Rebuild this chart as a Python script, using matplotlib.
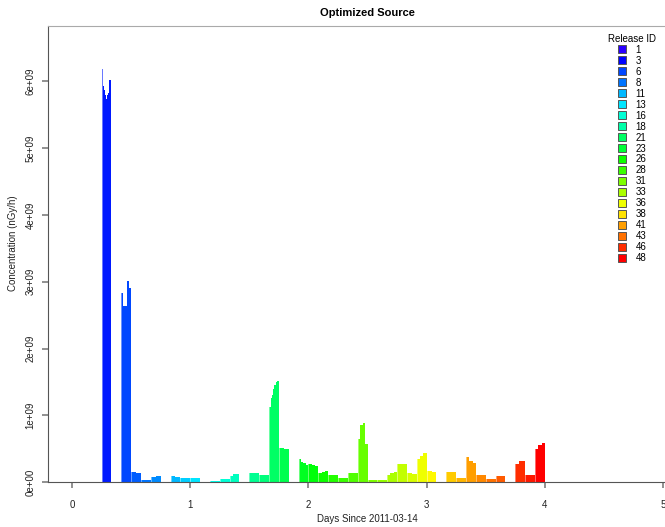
import colorsys
import matplotlib
matplotlib.use("Agg")
import matplotlib.pyplot as plt
from matplotlib.lines import Line2D

plt.rcParams['font.family'] = ['Liberation Sans', 'DejaVu Sans']

release_ids = list(range(1, 49))
legend_ids = [1, 3, 6, 8, 11, 13, 16, 18, 21, 23, 26, 28, 31, 33, 36, 38, 41, 43, 46, 48]
release_days = 2.0 / 24  # each release covers two hours
# concentration inside each release window, units of 1e9 nGy/h
release_conc = [
    [0], [0], [0],
    [6.19, 5.93, 5.88, 5.80, 5.74, 5.80, 5.83, 6.02, 6.02],  # 4
    [0],
    [2.83, 2.83, 2.63, 2.63, 2.63, 3.01, 3.01, 2.91, 2.91],  # 6
    [0.15, 0.14],  # 7
    [0.025],  # 8
    [0.08, 0.09],  # 9
    [0],  # 10
    [0.085, 0.075],  # 11
    [0.055],  # 12
    [0.055],  # 13
    [0],  # 14
    [0.02],  # 15
    [0.05],  # 16
    [0.09, 0.115, 0.125],  # 17
    [0],  # 18
    [0.14],  # 19
    [0.11],  # 20
    [1.12, 1.12, 1.26, 1.30, 1.39, 1.45, 1.50, 1.52, 1.52],  # 21
    [0.515, 0.49],  # 22
    [0],  # 23
    [0.34, 0.30, 0.28, 0.255],  # 24
    [0.275, 0.26, 0.24],  # 25
    [0.14, 0.15, 0.16],  # 26
    [0.105, 0.10],  # 27
    [0.065, 0.055],  # 28
    [0.13],  # 29
    [0.64, 0.86, 0.89, 0.57],  # 30
    [0.035],  # 31
    [0.035],  # 32
    [0.105, 0.13, 0.15],  # 33
    [0.265, 0.27],  # 34
    [0.135, 0.12],  # 35
    [0.35, 0.39, 0.43],  # 36
    [0.16, 0.145],  # 37
    [0],  # 38
    [0.155],  # 39
    [0.055],  # 40
    [0.375, 0.315, 0.28],  # 41
    [0.10],  # 42
    [0.045],  # 43
    [0.095],  # 44
    [0],  # 45
    [0.275, 0.315, 0.32],  # 46
    [0.10],  # 47
    [0.49, 0.56, 0.58],  # 48
]
y_ticks = [0, 1, 2, 3, 4, 5, 6]
y_tick_labels = ['0e+00', '1e+09', '2e+09', '3e+09', '4e+09', '5e+09', '6e+09']
x_ticks = [0, 1, 2, 3, 4, 5]


def release_color(rid):
    # rainbow from blue-violet (first release) to red (last release)
    hue = 250.0 * (48 - rid) / 47 / 360.0
    return colorsys.hsv_to_rgb(hue, 1.0, 1.0)


W, H = 665, 527
fig = plt.figure(figsize=(W / 100, H / 100), dpi=100)
ax = fig.add_axes([48 / W, (H - 482) / H, (W - 48) / W, (482 - 26) / H])

for rid, vals in zip(release_ids, release_conc):
    if max(vals) <= 0:
        continue
    start = (rid - 1) * release_days
    step = release_days / len(vals)
    xs = [start + k * step for k in range(len(vals) + 1)]
    ys = [v * 1e9 for v in vals] + [vals[-1] * 1e9]
    ax.fill_between(xs, ys, step='post', color=release_color(rid),
                    linewidth=0)
    ax.axvline(start, color='white', lw=0.5, alpha=0.6)

ax.set_xlim(-24 / 118.2, (W - 72) / 118.2)
ax.set_ylim(0, (482 - 26) / 66.75 * 1e9)

ax.set_xticks(x_ticks)
ax.set_xticklabels([str(t) for t in x_ticks])
ax.set_yticks([t * 1e9 for t in y_ticks])
ax.set_yticklabels(y_tick_labels, rotation=90, va='center')
ax.tick_params(axis='both', colors='#888888', labelcolor='#222222',
               labelsize=7, width=1.3, length=4)
ax.tick_params(axis='x', pad=9)
ax.tick_params(axis='y', pad=5)
ax.spines['right'].set_visible(False)
ax.spines['top'].set_color('#aaaaaa')
ax.spines['left'].set_color('#555555')
ax.spines['bottom'].set_color('#555555')

fig.text(367 / W, 1 - 13 / H, 'Optimized Source', ha='center', va='center',
         fontsize=8, fontweight='bold')
fig.text(367 / W, 1 - 519 / H, 'Days Since 2011-03-14', ha='center',
         va='center', fontsize=7, color='#222222')
fig.text(13 / W, 1 - 243 / H, 'Concentration (nGy/h)', ha='center',
         va='center', rotation=90, fontsize=7, color='#222222')

handles = [Line2D([], [], marker='s', linestyle='none', markersize=6,
                  markerfacecolor=release_color(r), markeredgecolor='#555555',
                  markeredgewidth=0.7) for r in legend_ids]
fig.legend(handles, [str(r) for r in legend_ids], title='Release ID',
           loc='upper left', bbox_to_anchor=(601 / W, 1 - 27 / H),
           frameon=False, fontsize=7, title_fontsize=7, labelspacing=0.1,
           handletextpad=0.9, handlelength=1.0, borderpad=0.2)

fig.savefig('out.png', dpi=100)
